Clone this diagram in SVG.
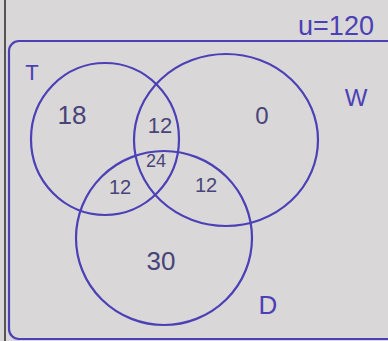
<svg xmlns="http://www.w3.org/2000/svg" width="388" height="341" viewBox="0 0 388 341">
<style>
.ln{fill:none;stroke:#4b40b5;stroke-width:2.2}
.t{font-family:"Liberation Sans",sans-serif;fill:#48447a;text-anchor:middle}
.lab{font-family:"Liberation Sans",sans-serif;fill:#4b40b5;text-anchor:middle}
</style>
<rect width="388" height="341" fill="#d9d7d8"/>
<line x1="5" y1="0" x2="5" y2="341" stroke="#555" stroke-width="2"/>
<g id="universe">
<rect class="ln" x="9" y="41" width="390" height="298" rx="10"/>
<text class="lab" x="336" y="35" font-size="27">u=120</text>
</g>
<g id="T">
<ellipse class="ln" cx="105" cy="139" rx="74" ry="76"/>
<text class="lab" x="32" y="80" font-size="22">T</text>
</g>
<g id="W">
<ellipse class="ln" cx="226" cy="140" rx="92" ry="86"/>
<text class="lab" x="356" y="106" font-size="24">W</text>
</g>
<g id="D">
<ellipse class="ln" cx="164" cy="238" rx="88" ry="87"/>
<text class="lab" x="268" y="314" font-size="26">D</text>
</g>
<g id="regions">
<text class="t" x="72" y="124" font-size="26">18</text>
<text class="t" x="160" y="133" font-size="22">12</text>
<text class="t" x="262" y="124" font-size="24">0</text>
<text class="t" x="156" y="167" font-size="18">24</text>
<text class="t" x="120" y="194" font-size="20">12</text>
<text class="t" x="206" y="192" font-size="20">12</text>
<text class="t" x="161" y="270" font-size="26">30</text>
</g>
</svg>
